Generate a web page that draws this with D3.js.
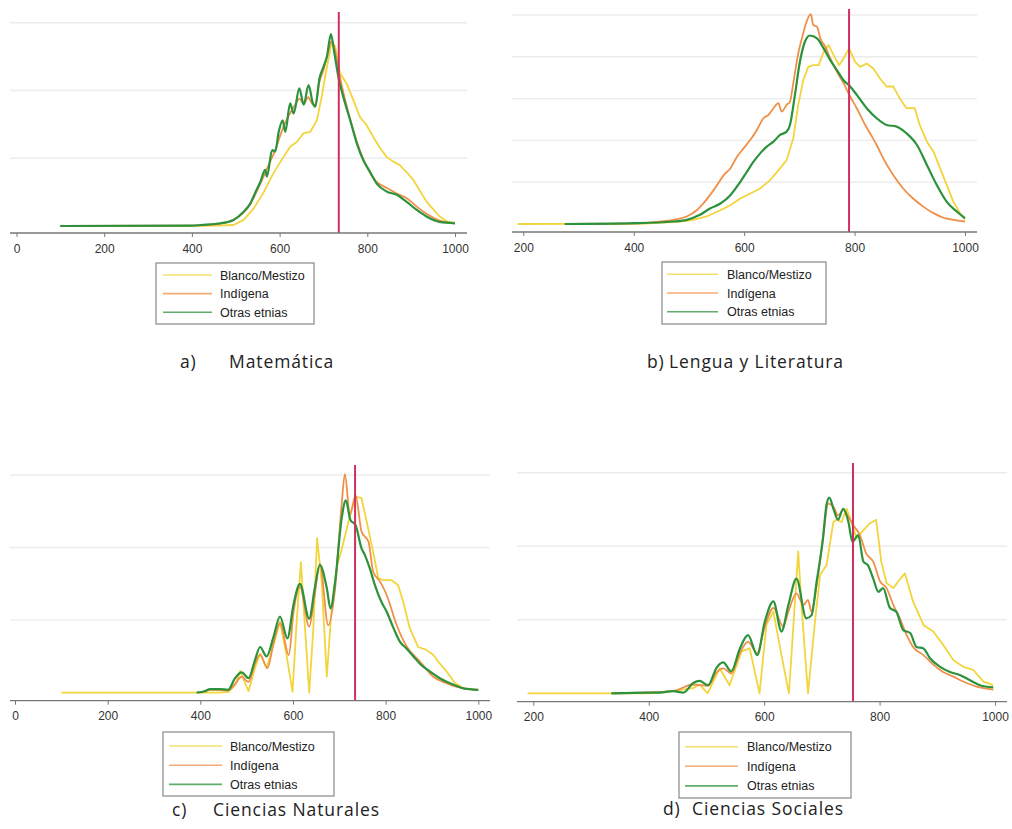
<!DOCTYPE html>
<html>
<head>
<meta charset="utf-8">
<script src="https://cdn.jsdelivr.net/npm/d3@7"></script>
<style>
  body { margin: 0; background: #fff; }
  svg text { font-family: "Liberation Sans", Arial, sans-serif; }
  .caption { font-family: "Open Sans", sans-serif; font-size: 17.5px; letter-spacing: 0.9px; fill: #222; }
</style>
</head>
<body>
<div id="chart"></div>
<script>
// Etnias (legend)
var etnias = ["Blanco/Mestizo", "Indígena", "Otras etnias"];
var colores = ["#f2d53c", "#f08f48", "#2c923c"];

// Titles
var letras = ["a)", "b)", "c)", "d)"];
var materias = ["Matemática", "Lengua y Literatura", "Ciencias Naturales", "Ciencias Sociales"];

// Tick labels
var ticksA = [0, 200, 400, 600, 800, 1000];
var ticksB = [200, 400, 600, 800, 1000];
var ticksC = [0, 200, 400, 600, 800, 1000];
var ticksD = [200, 400, 600, 800, 1000];

// Vertical reference line (mean score)
var corteA = 735;
var corteB = 790;
var corteC = 734;
var corteD = 754;

// Densities [score, density] (gridline units)
var blancoA = [[100,0],[400,0.003],[460,0.005],[495,0.015],[518,0.09],[541,0.26],[564,0.5],[586,0.78],[609,1.02],[624,1.17],[639,1.24],[655,1.37],[670,1.39],[685,1.56],[696,1.91],[708,2.35],[719,2.72],[727,2.65],[738,2.25],[753,2.1],[768,1.86],[783,1.61],[798,1.49],[813,1.32],[829,1.15],[844,1.02],[859,0.95],[874,0.9],[889,0.8],[905,0.68],[920,0.52],[935,0.36],[950,0.25],[965,0.14],[984,0.06],[1000,0.05]];
var indigenaA = [[100,0],[400,0.005],[450,0.02],[495,0.09],[518,0.2],[533,0.32],[545,0.47],[560,0.68],[575,0.9],[590,1.12],[605,1.4],[620,1.62],[635,1.78],[645,1.88],[655,1.8],[665,1.9],[675,1.8],[682,1.78],[690,2.1],[700,2.3],[710,2.55],[718,2.72],[726,2.6],[735,2.28],[745,1.98],[760,1.6],[775,1.27],[790,1.0],[805,0.8],[820,0.66],[845,0.56],[867,0.48],[890,0.41],[912,0.29],[935,0.18],[965,0.08],[1000,0.04]];
var otrasA = [[100,0],[400,0.005],[420,0.015],[465,0.04],[495,0.09],[518,0.21],[533,0.33],[545,0.5],[556,0.65],[567,0.83],[571,0.73],[583,1.12],[590,1.1],[598,1.39],[607,1.56],[613,1.39],[624,1.81],[632,1.66],[645,2.03],[655,1.79],[666,2.08],[676,1.81],[681,1.76],[691,2.18],[700,2.35],[708,2.5],[717,2.83],[725,2.55],[734,2.2],[745,1.91],[761,1.56],[776,1.22],[791,0.97],[806,0.8],[821,0.63],[844,0.51],[867,0.46],[889,0.36],[912,0.24],[935,0.14],[965,0.06],[1000,0.04]];

var blancoB = [[190,0],[420,0.01],[484,0.06],[508,0.1],[532,0.18],[557,0.33],[575,0.45],[593,0.61],[611,0.73],[629,0.85],[647,1.05],[665,1.33],[677,1.53],[689,2.05],[698,2.85],[707,3.44],[716,3.76],[725,3.8],[735,3.8],[744,4.12],[753,4.28],[762,4.04],[772,3.8],[780,3.96],[790,4.2],[801,3.88],[810,3.76],[822,3.84],[834,3.72],[846,3.48],[858,3.29],[870,3.29],[882,3.0],[894,2.77],[909,2.77],[918,2.37],[931,1.97],[943,1.73],[955,1.33],[967,0.93],[979,0.53],[991,0.26],[1000,0.1]];
var indigenaB = [[280,0],[400,0.01],[448,0.06],[472,0.1],[496,0.18],[514,0.33],[526,0.49],[538,0.69],[551,0.93],[563,1.17],[575,1.33],[587,1.61],[599,1.81],[611,2.01],[623,2.25],[635,2.53],[644,2.61],[653,2.77],[662,2.89],[668,2.69],[677,2.85],[683,2.93],[689,3.37],[698,4.08],[707,4.56],[713,4.84],[721,5.02],[725,4.76],[732,4.72],[738,4.44],[747,4.24],[756,3.96],[768,3.64],[780,3.37],[792,3.05],[804,2.77],[816,2.45],[828,2.17],[840,1.89],[852,1.57],[870,1.17],[888,0.85],[906,0.61],[925,0.41],[943,0.26],[961,0.15],[979,0.1],[1000,0.06]];
var otrasB = [[275,0],[400,0.02],[472,0.06],[496,0.1],[520,0.22],[538,0.37],[557,0.49],[575,0.69],[593,1.01],[605,1.25],[617,1.49],[629,1.69],[641,1.85],[653,1.97],[665,2.13],[677,2.21],[683,2.37],[692,3.09],[701,3.88],[710,4.36],[719,4.51],[732,4.44],[744,4.2],[756,3.92],[768,3.68],[780,3.44],[792,3.29],[804,3.09],[822,2.77],[840,2.53],[858,2.37],[876,2.33],[894,2.17],[913,1.89],[931,1.41],[949,0.93],[967,0.53],[985,0.3],[1000,0.14]];

var blancoC = [[100,0],[440,0],[460,0.01],[475,0.1],[486,0.3],[504,0.02],[518,0.34],[529,0.54],[543,0.34],[558,0.66],[572,0.98],[586,0.52],[599,0.01],[608,0.98],[617,1.8],[626,0.89],[635,0],[644,0.89],[652,2.13],[662,1.53],[673,0.22],[683,1.12],[694,1.71],[705,1.97],[716,2.26],[727,2.54],[737,2.7],[748,2.68],[759,2.36],[773,1.94],[784,1.58],[795,1.55],[813,1.55],[827,1.48],[838,1.25],[852,0.89],[870,0.63],[888,0.59],[903,0.52],[917,0.4],[932,0.29],[950,0.13],[968,0.06],[1000,0.04]];
var indigenaC = [[400,0],[421,0.04],[460,0.03],[475,0.12],[489,0.22],[504,0.15],[518,0.4],[529,0.52],[545,0.34],[558,0.68],[572,0.96],[591,0.52],[601,1.1],[615,1.46],[635,0.91],[647,1.35],[658,1.78],[676,0.93],[691,1.44],[705,2.59],[712,3.01],[723,2.45],[735,2.72],[748,2.22],[763,2.08],[773,1.67],[788,1.53],[802,1.35],[824,0.93],[845,0.64],[874,0.43],[903,0.22],[924,0.15],[968,0.06],[1000,0.04]];
var otrasC = [[392,0],[410,0.02],[421,0.05],[442,0.05],[460,0.04],[475,0.2],[489,0.28],[504,0.2],[518,0.45],[529,0.63],[543,0.5],[558,0.77],[572,1.05],[588,0.75],[601,1.21],[615,1.5],[635,1.02],[647,1.44],[658,1.76],[673,1.44],[681,1.16],[691,1.53],[705,2.4],[714,2.65],[724,2.38],[735,2.31],[748,1.99],[755,1.9],[766,1.71],[777,1.48],[791,1.25],[802,1.12],[817,0.89],[831,0.7],[845,0.61],[860,0.5],[874,0.4],[896,0.29],[917,0.2],[939,0.13],[968,0.06],[1000,0.04]];

var blancoD = [[190,0],[400,0],[419,0.01],[477,0.07],[488,0.12],[502,0],[523,0.34],[540,0.11],[561,0.57],[575,0.61],[592,0],[604,0.93],[616,1.11],[630,0.52],[643,0],[653,1.2],[659,1.93],[665,1.16],[676,0],[688,0.97],[697,1.61],[708,1.74],[720,2.33],[725,2.36],[734,2.33],[743,2.51],[751,2.33],[760,2.11],[772,2.22],[783,2.31],[794,2.36],[803,1.79],[812,1.5],[824,1.43],[832,1.52],[844,1.63],[858,1.25],[876,0.93],[893,0.84],[910,0.66],[928,0.45],[945,0.36],[962,0.32],[980,0.16],[997,0.11]];
var indigenaD = [[340,0],[442,0.03],[477,0.12],[503,0.1],[517,0.28],[529,0.34],[543,0.27],[558,0.55],[572,0.7],[588,0.55],[601,0.9],[616,1.16],[633,0.91],[642,1.11],[656,1.36],[668,1.2],[676,1.27],[682,1.11],[691,1.47],[702,2.11],[711,2.58],[720,2.54],[728,2.42],[737,2.49],[746,2.4],[754,2.29],[766,2.15],[777,1.9],[789,1.79],[801,1.52],[812,1.43],[824,1.2],[835,1.02],[847,0.79],[858,0.63],[876,0.52],[893,0.39],[910,0.29],[927,0.23],[945,0.16],[968,0.09],[997,0.05]];
var otrasD = [[335,0],[400,0.01],[419,0.01],[442,0.03],[460,0.01],[477,0.14],[488,0.17],[503,0.11],[517,0.34],[529,0.42],[543,0.3],[558,0.61],[572,0.79],[588,0.52],[601,0.97],[616,1.25],[630,0.84],[642,1.2],[656,1.56],[673,1.02],[682,1.06],[691,1.52],[702,2.11],[708,2.56],[713,2.66],[720,2.51],[728,2.36],[737,2.51],[746,2.33],[753,2.06],[763,2.15],[772,1.79],[780,1.74],[789,1.56],[798,1.38],[806,1.43],[818,1.16],[829,1.11],[841,0.86],[853,0.82],[864,0.63],[876,0.61],[887,0.48],[905,0.36],[922,0.29],[939,0.25],[956,0.18],[974,0.11],[997,0.08]];

// Panel layout
var panels = [
  { series: [blancoA, indigenaA, otrasA], ref: corteA, ticks: ticksA, dom: [0, 1000], xr: [16.5, 455], line: [10, 467],
    y0: 226, yTop: 22.7, ymax: 3, axisY: 233, refTop: 12,
    leg: { x: 156, y: 263, w: 158, h: 61, lx: 163, lw: 49, tx: 220, r0: 275, dr: 18.6 },
    cap: { x: 180, tx: 229, y: 368 } },
  { series: [blancoB, indigenaB, otrasB], ref: corteB, ticks: ticksB, dom: [200, 1000], xr: [523.3, 965], line: [512, 977],
    y0: 224, yTop: 15, ymax: 5, axisY: 232, refTop: 9,
    leg: { x: 662, y: 262, w: 164, h: 62, lx: 667, lw: 51, tx: 727, r0: 274.3, dr: 18.7 },
    cap: { x: 647, tx: 669, y: 368 } },
  { series: [blancoC, indigenaC, otrasC], ref: corteC, ticks: ticksC, dom: [0, 1000], xr: [15, 478.3], line: [10, 490],
    y0: 692.7, yTop: 475, ymax: 3, axisY: 700.7, refTop: 465,
    leg: { x: 163, y: 732, w: 171, h: 64, lx: 169, lw: 53, tx: 230, r0: 746, dr: 19.2 },
    cap: { x: 172, tx: 213, y: 816 } },
  { series: [blancoD, indigenaD, otrasD], ref: corteD, ticks: ticksD, dom: [200, 1000], xr: [533.3, 995], line: [517, 1007],
    y0: 693.3, yTop: 472.7, ymax: 3, axisY: 701.7, refTop: 463,
    leg: { x: 679, y: 732, w: 172, h: 66, lx: 685, lw: 53, tx: 747, r0: 746.7, dr: 19.6 },
    cap: { x: 663, tx: 692, y: 815 } }
];

var svg = d3.select("#chart")
  .append("svg")
  .attr("width", 1012)
  .attr("height", 829);

panels.forEach(function(p, i) {
  var g = svg.append("g");

  var x = d3.scaleLinear().domain(p.dom).range(p.xr);
  var y = d3.scaleLinear().domain([0, p.ymax]).range([p.y0, p.yTop]);

  // gridlines
  g.selectAll(".grid")
    .data(d3.range(1, p.ymax + 1))
    .enter()
    .append("line")
    .attr("x1", p.line[0])
    .attr("x2", p.line[1])
    .attr("y1", d => y(d))
    .attr("y2", d => y(d))
    .attr("stroke", "#ececec")
    .attr("stroke-width", 1.4);

  // density lines
  p.series.forEach(function(s, j) {
    var line = d3.line()
      .x(d => x(d[0]))
      .y(d => y(d[1]))
      .curve(j == 0 ? d3.curveLinear : d3.curveMonotoneX);
    g.append("path")
      .datum(s)
      .attr("d", line)
      .attr("fill", "none")
      .attr("stroke", colores[j])
      .attr("stroke-width", j == 2 ? 2.2 : 1.8)
      .attr("stroke-linejoin", "round");
  });

  // reference line
  g.append("line")
    .attr("x1", x(p.ref))
    .attr("x2", x(p.ref))
    .attr("y1", p.refTop)
    .attr("y2", p.axisY)
    .attr("stroke", "#d0305e")
    .attr("stroke-width", 2);

  // x axis
  g.append("line")
    .attr("x1", p.line[0])
    .attr("x2", p.line[1])
    .attr("y1", p.axisY)
    .attr("y2", p.axisY)
    .attr("stroke", "#777")
    .attr("stroke-width", 1.3);

  var axis = g.append("g")
    .attr("transform", `translate(0, ${p.axisY})`)
    .call(d3.axisBottom(x).tickValues(p.ticks).tickFormat(d3.format("d")).tickSize(4).tickPadding(7));
  axis.select(".domain").remove();
  axis.selectAll(".tick line").attr("stroke", "#777");
  axis.selectAll(".tick text")
    .attr("font-size", 12)
    .attr("fill", "#333")
    .style("font-family", "'Liberation Sans', Arial, sans-serif");

  // legend
  var L = p.leg;
  g.append("rect")
    .attr("x", L.x)
    .attr("y", L.y)
    .attr("width", L.w)
    .attr("height", L.h)
    .attr("fill", "#fff")
    .attr("stroke", "#888")
    .attr("stroke-width", 1.2);

  etnias.forEach(function(e, j) {
    var ry = L.r0 + j * L.dr;
    g.append("line")
      .attr("x1", L.lx)
      .attr("x2", L.lx + L.lw)
      .attr("y1", ry)
      .attr("y2", ry)
      .attr("stroke", colores[j])
      .attr("stroke-opacity", 0.75)
      .attr("stroke-width", 1.6);
    g.append("text")
      .attr("x", L.tx)
      .attr("y", ry + 4.5)
      .attr("font-size", 12.5)
      .attr("fill", "#222")
      .text(e);
  });

  // caption
  g.append("text")
    .attr("class", "caption")
    .attr("x", p.cap.x)
    .attr("y", p.cap.y)
    .text(letras[i]);
  g.append("text")
    .attr("class", "caption")
    .attr("x", p.cap.tx)
    .attr("y", p.cap.y)
    .text(materias[i]);
});
</script>
</body>
</html>
